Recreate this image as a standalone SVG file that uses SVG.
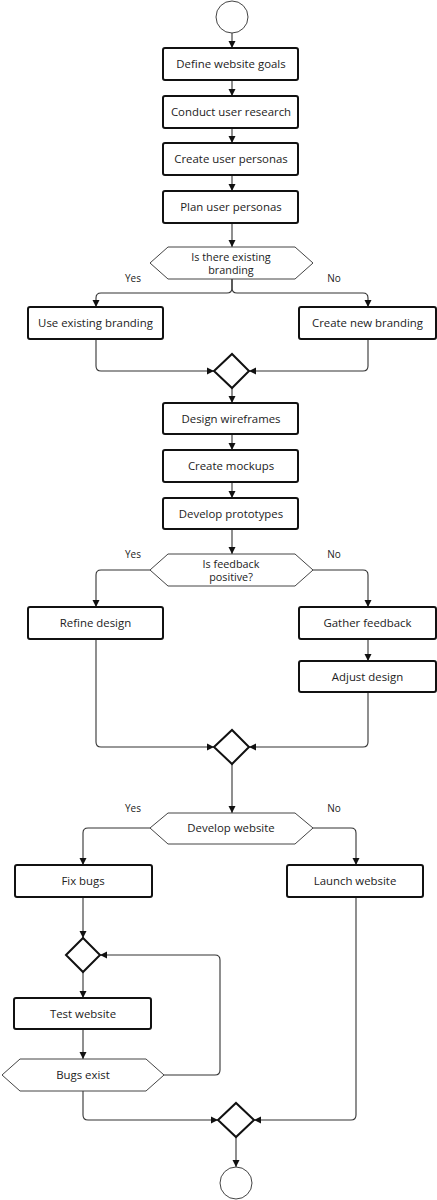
<svg xmlns="http://www.w3.org/2000/svg" width="437" height="1200" viewBox="0 0 437 1200">
<style>
.box{fill:#fff;stroke:#111;stroke-width:2}
.hex{fill:#fff;stroke:#444;stroke-width:1}
.dia{fill:#fff;stroke:#111;stroke-width:2}
.circ{fill:#fff;stroke:#444;stroke-width:1}
.t{font-family:"Open Sans","Liberation Sans",sans-serif;font-size:11.4px;fill:#222;text-anchor:middle;dominant-baseline:central}
.t2{font-family:"Open Sans","Liberation Sans",sans-serif;font-size:10.8px;fill:#222;text-anchor:middle;dominant-baseline:central}
.lbl{font-family:"Open Sans","Liberation Sans",sans-serif;font-size:10px;fill:#222;text-anchor:middle;dominant-baseline:central}
.c{fill:none;stroke:#333;stroke-width:1.1;marker-end:url(#arr)}
</style>
<defs>
<marker id="arr" markerUnits="userSpaceOnUse" markerWidth="8" markerHeight="8" refX="7" refY="4" orient="auto">
<path d="M0,0.5 L7,4 L0,7.5 z" fill="#111"/>
</marker>
</defs>
<rect width="437" height="1200" fill="#fff"/>
<g id="connectors">
<path class="c" d="M232,33 V48"/>
<path class="c" d="M232,80 V96"/>
<path class="c" d="M232,128 V143"/>
<path class="c" d="M232,175 V191"/>
<path class="c" d="M232,223 V247"/>
<path class="c" d="M232,279 V288 Q232,293 227,293 H101 Q96,293 96,298 V307"/>
<path class="c" d="M232,279 V288 Q232,293 237,293 H363 Q368,293 368,298 V307"/>
<path class="c" d="M96,339 V366 Q96,371 101,371 H214"/>
<path class="c" d="M368,339 V366 Q368,371 363,371 H249"/>
<path class="c" d="M232,388 V403"/>
<path class="c" d="M232,434 V450"/>
<path class="c" d="M232,482 V498"/>
<path class="c" d="M232,529 V554"/>
<path class="c" d="M150,570 H101 Q96,570 96,575 V607"/>
<path class="c" d="M313,570 H363 Q368,570 368,575 V607"/>
<path class="c" d="M368,639 V661"/>
<path class="c" d="M96,639 V742 Q96,747 101,747 H214"/>
<path class="c" d="M368,692 V742 Q368,747 363,747 H249"/>
<path class="c" d="M232,764 V813"/>
<path class="c" d="M150,828 H88 Q83,828 83,833 V865"/>
<path class="c" d="M313,828 H351 Q356,828 356,833 V865"/>
<path class="c" d="M83,897 V938"/>
<path class="c" d="M83,972 V998"/>
<path class="c" d="M83,1029 V1059"/>
<path class="c" d="M164,1075 H215 Q220,1075 220,1070 V960 Q220,955 215,955 H100"/>
<path class="c" d="M83,1091 V1115 Q83,1120 88,1120 H218"/>
<path class="c" d="M356,897 V1115 Q356,1120 351,1120 H254"/>
<path class="c" d="M236,1137 V1167"/>
</g>
<g id="start"><circle class="circ" cx="232" cy="17" r="16"/></g>
<g id="n1"><rect class="box" x="163" y="48" width="135" height="32" rx="2"/><text class="t" x="231" y="63.5">Define website goals</text></g>
<g id="n2"><rect class="box" x="163" y="96" width="135" height="32" rx="2"/><text class="t" x="231" y="111.5">Conduct user research</text></g>
<g id="n3"><rect class="box" x="163" y="143" width="135" height="32" rx="2"/><text class="t" x="231" y="158.5">Create user personas</text></g>
<g id="n4"><rect class="box" x="163" y="191" width="135" height="32" rx="2"/><text class="t" x="231" y="206.5">Plan user personas</text></g>
<g id="d1"><polygon class="hex" points="150,263 168,247 295,247 313,263 295,279 168,279"/><text class="t2" x="231" y="256">Is there existing</text><text class="t2" x="231" y="269">branding</text></g>
<g id="l1"><text class="lbl" x="133" y="278">Yes</text><text class="lbl" x="334" y="278">No</text></g>
<g id="n5"><rect class="box" x="28" y="307" width="135" height="32" rx="2"/><text class="t" x="95.5" y="322.5">Use existing branding</text></g>
<g id="n6"><rect class="box" x="299" y="307" width="137" height="32" rx="2"/><text class="t" x="367.5" y="322.5">Create new branding</text></g>
<g id="m1"><polygon class="dia" points="214,371 232,354 249,371 232,388"/></g>
<g id="n7"><rect class="box" x="163" y="403" width="135" height="31" rx="2"/><text class="t" x="231" y="418.5">Design wireframes</text></g>
<g id="n8"><rect class="box" x="163" y="450" width="135" height="32" rx="2"/><text class="t" x="231" y="465.5">Create mockups</text></g>
<g id="n9"><rect class="box" x="163" y="498" width="135" height="31" rx="2"/><text class="t" x="231" y="513.5">Develop prototypes</text></g>
<g id="d2"><polygon class="hex" points="150,570 168,554 295,554 313,570 295,586 168,586"/><text class="t2" x="231" y="563.5">Is feedback</text><text class="t2" x="231" y="576.5">positive?</text></g>
<g id="l2"><text class="lbl" x="133" y="554">Yes</text><text class="lbl" x="334" y="554">No</text></g>
<g id="n10"><rect class="box" x="28" y="607" width="135" height="32" rx="2"/><text class="t" x="95.5" y="622.5">Refine design</text></g>
<g id="n11"><rect class="box" x="299" y="607" width="137" height="32" rx="2"/><text class="t" x="367.5" y="622.5">Gather feedback</text></g>
<g id="n12"><rect class="box" x="299" y="661" width="137" height="31" rx="2"/><text class="t" x="367.5" y="676.5">Adjust design</text></g>
<g id="m2"><polygon class="dia" points="214,747 232,730 249,747 232,764"/></g>
<g id="d3"><polygon class="hex" points="150,828 168,813 295,813 313,828 295,844 168,844"/><text class="t" x="231" y="827.5">Develop website</text></g>
<g id="l3"><text class="lbl" x="133" y="808">Yes</text><text class="lbl" x="334" y="808">No</text></g>
<g id="n13"><rect class="box" x="15" y="865" width="137" height="32" rx="2"/><text class="t" x="83" y="880.5">Fix bugs</text></g>
<g id="n14"><rect class="box" x="287" y="865" width="136" height="32" rx="2"/><text class="t" x="355" y="880.5">Launch website</text></g>
<g id="m3"><polygon class="dia" points="66,955 83,938 100,955 83,972"/></g>
<g id="n15"><rect class="box" x="14" y="998" width="137" height="31" rx="2"/><text class="t" x="83" y="1013.5">Test website</text></g>
<g id="d4"><polygon class="hex" points="2,1075 20,1059 146,1059 164,1075 146,1091 20,1091"/><text class="t" x="83" y="1074.5">Bugs exist</text></g>
<g id="m4"><polygon class="dia" points="218,1120 236,1103 254,1120 236,1137"/></g>
<g id="end"><circle class="circ" cx="236" cy="1183" r="16"/></g>
</svg>
